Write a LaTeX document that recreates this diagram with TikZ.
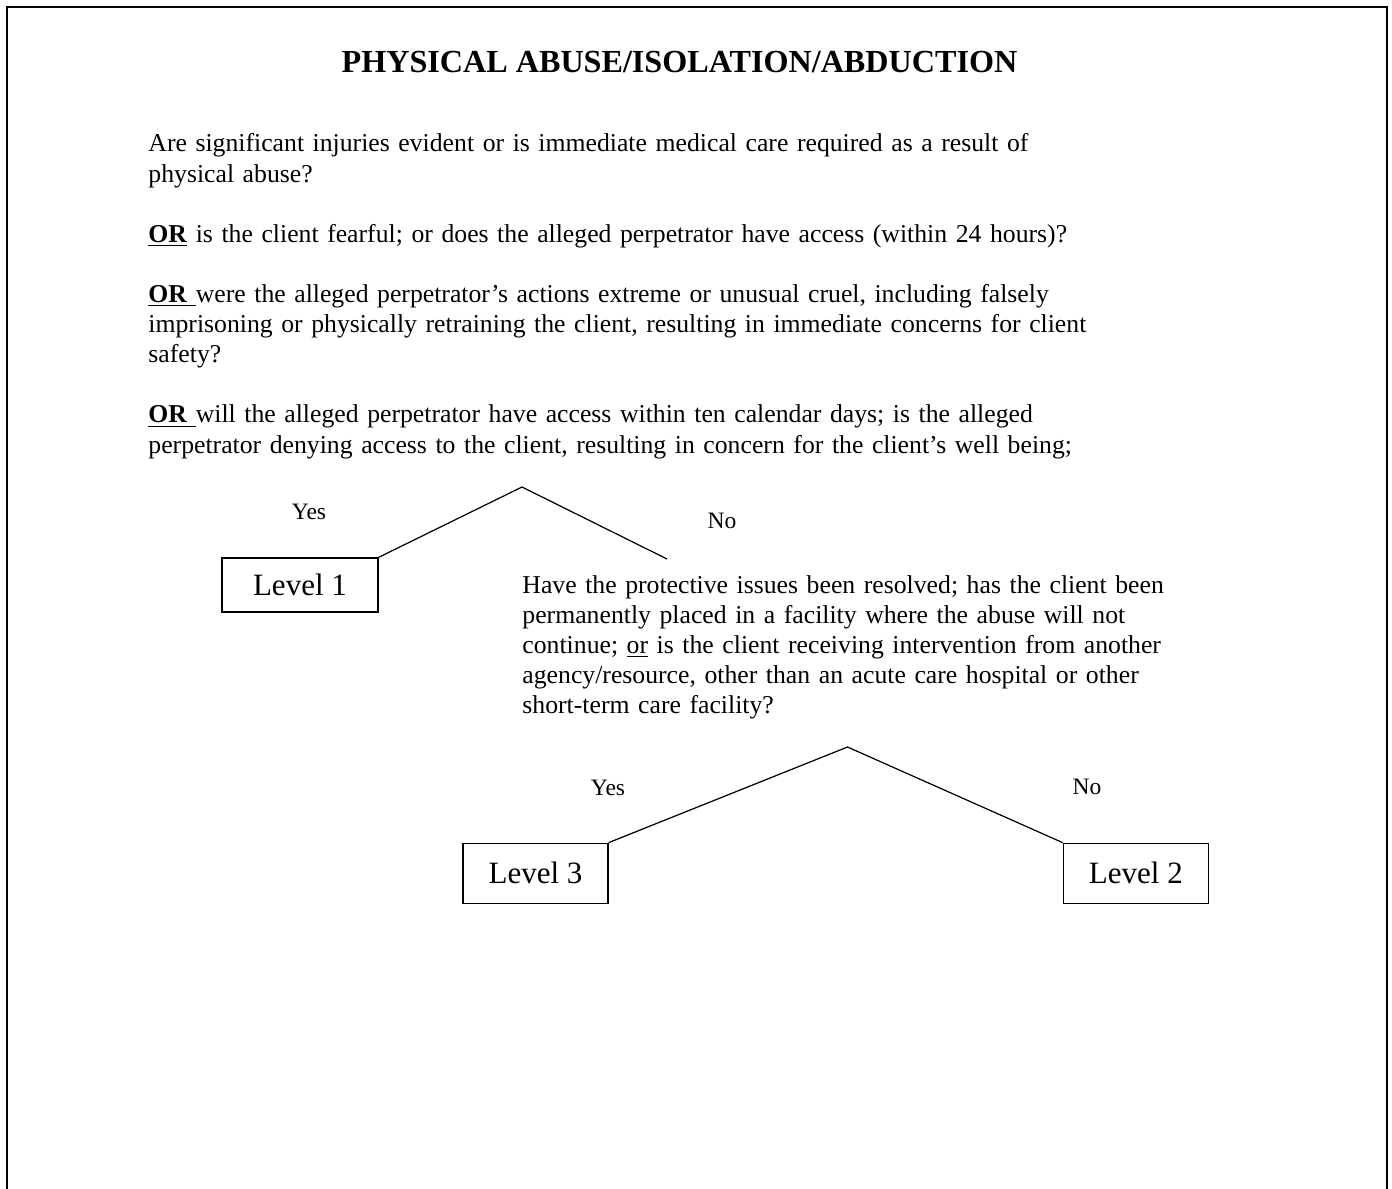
\documentclass[tikz,border=0pt]{standalone}
\usepackage{fontspec}
\setmainfont{Liberation Serif}
\usetikzlibrary{positioning}

\begin{document}
\begin{tikzpicture}[
    x=0.451pt, y=-0.451pt,
    frame/.style={line width=0.9pt},
    heading/.style={font=\fontsize{14.5}{16}\selectfont\bfseries, anchor=base, inner sep=0pt},
    question/.style={font=\fontsize{11.6}{13.58}\selectfont, anchor=base west, align=left, inner sep=0pt},
    answer/.style={font=\fontsize{10.6}{12}\selectfont, anchor=base, inner sep=0pt},
    levelbox/.style={rectangle, draw, line width=0.55pt, font=\fontsize{14}{16}\selectfont, inner sep=0pt},
    branch/.style={line width=0.55pt}
]
    \useasboundingbox (0,0) rectangle (1392,1188);
    \draw[frame] (7,1190) -- (7,7) -- (1386.5,7) -- (1386.5,1190);

    \node[heading] (title) at (679.5,73) {PHYSICAL ABUSE/ISOLATION/ABDUCTION};

    \node[question, text width=500pt] (q1) at (148,152) {%
        Are significant injuries evident or is immediate medical care required as a result of\\
        physical abuse?\\[13.58pt]
        \underline{\textbf{OR}} is the client fearful; or does the alleged perpetrator have access (within 24 hours)?\\[13.58pt]
        \underline{\textbf{OR }}were the alleged perpetrator's actions extreme or unusual cruel, including falsely\\
        imprisoning or physically retraining the client, resulting in immediate concerns for client\\
        safety?\\[13.58pt]
        \underline{\textbf{OR }}will the alleged perpetrator have access within ten calendar days; is the alleged\\
        perpetrator denying access to the client, resulting in concern for the client's well being;};

    \coordinate (top1) at (522,487);
    \coordinate (noend) at (667,559);
    \node[levelbox, minimum width=70.4pt, minimum height=24.4pt] (level1) at (300,585) {Level 1};
    \node[answer] (yes1) at (309,519) {Yes};
    \node[answer] (no1) at (722,528) {No};

    \node[question, text width=320pt] (q2) at (522,593) {%
        Have the protective issues been resolved; has the client been\\
        permanently placed in a facility where the abuse will not\\
        continue; \underline{or} is the client receiving intervention from another\\
        agency/resource, other than an acute care hospital or other\\
        short-term care facility?};

    \coordinate (top2) at (847.5,747);
    \node[levelbox, minimum width=65.4pt, minimum height=27.1pt] (level3) at (535.5,873.3) {Level 3};
    \node[levelbox, minimum width=65.4pt, minimum height=27.1pt] (level2) at (1135.8,873.3) {Level 2};
    \node[answer] (yes2) at (608,795) {Yes};
    \node[answer] (no2) at (1087,794) {No};

    \draw[branch] (level1.north east) -- (top1) -- (noend);
    \draw[branch] (level3.north east) -- (top2) -- (level2.north west);
\end{tikzpicture}
\end{document}
